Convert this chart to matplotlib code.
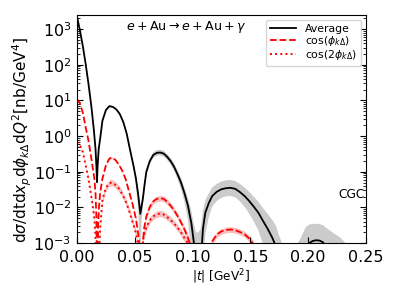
import matplotlib
matplotlib.use("Agg")
import matplotlib.pyplot as plt
import numpy as np

# |t| grid and curves
avg_t = [0.000, 0.0025, 0.005, 0.0075, 0.010, 0.0125, 0.0145, 0.016, 0.0168, 0.0173,
         0.0178, 0.0188, 0.020, 0.022, 0.025, 0.028, 0.031, 0.034, 0.037, 0.040,
         0.043, 0.046, 0.049, 0.051, 0.053, 0.0548, 0.0558, 0.057, 0.0585, 0.060,
         0.063, 0.066, 0.069, 0.072, 0.075, 0.078, 0.081, 0.084, 0.087, 0.090,
         0.093, 0.096, 0.099, 0.101, 0.103, 0.105, 0.107, 0.109, 0.111, 0.114,
         0.117, 0.121, 0.125, 0.129, 0.133, 0.137, 0.141, 0.145, 0.149, 0.153,
         0.157, 0.161, 0.165, 0.169, 0.172, 0.175, 0.180, 0.187, 0.193, 0.198,
         0.201, 0.204, 0.207, 0.210, 0.213, 0.216, 0.222, 0.228, 0.234, 0.240]
avg_log = [3.35, 2.97, 2.53, 2.02, 1.45, 0.81, 0.20, -0.35, -0.85, -1.29,
           -0.85, -0.35, -0.08, 0.43, 0.73, 0.84, 0.82, 0.75, 0.62, 0.40,
           0.07, -0.40, -0.85, -1.19, -1.65, -2.18, -1.98, -1.75, -1.35, -1.00,
           -0.70, -0.53, -0.47, -0.46, -0.49, -0.58, -0.70, -0.86, -1.07, -1.30,
           -1.60, -1.95, -2.45, -2.95, -3.60, -4.50, -3.60, -2.60, -2.15, -1.88,
           -1.68, -1.56, -1.49, -1.46, -1.45, -1.48, -1.57, -1.68, -1.82, -1.98,
           -2.15, -2.38, -2.60, -2.85, -3.08, -3.40, -4.00, -4.50, -3.80, -3.15,
           -3.00, -2.94, -2.92, -2.93, -2.98, -3.20, -3.50, -3.80, -4.20, -4.50]
# band widths (decades) for the gray uncertainty
avg_up = [0.01, 0.01, 0.01, 0.01, 0.01, 0.01, 0.01, 0.02, 0.04, 0.08,
          0.04, 0.02, 0.02, 0.02, 0.02, 0.02, 0.02, 0.02, 0.02, 0.03,
          0.03, 0.05, 0.07, 0.10, 0.14, 0.20, 0.15, 0.12, 0.10, 0.08,
          0.08, 0.08, 0.08, 0.08, 0.08, 0.08, 0.09, 0.10, 0.11, 0.13,
          0.16, 0.22, 0.35, 0.50, 0.90, 1.80, 1.00, 0.50, 0.35, 0.27,
          0.24, 0.22, 0.22, 0.22, 0.22, 0.22, 0.23, 0.24, 0.26, 0.28,
          0.31, 0.36, 0.42, 0.50, 0.58, 0.60, 0.80, 1.30, 0.90, 0.60,
          0.52, 0.48, 0.46, 0.46, 0.48, 0.62, 0.78, 0.95, 1.15, 1.30]
avg_dn = [0.01, 0.01, 0.01, 0.01, 0.01, 0.01, 0.02, 0.04, 0.12, 0.25,
          0.12, 0.04, 0.03, 0.02, 0.02, 0.02, 0.02, 0.02, 0.02, 0.03,
          0.04, 0.06, 0.10, 0.20, 0.40, 1.50, 0.45, 0.25, 0.15, 0.10,
          0.08, 0.08, 0.08, 0.08, 0.08, 0.09, 0.10, 0.11, 0.14, 0.18,
          0.25, 0.40, 0.80, 1.50, 2.00, 2.00, 2.00, 1.20, 0.60, 0.40,
          0.30, 0.26, 0.24, 0.23, 0.23, 0.24, 0.26, 0.30, 0.35, 0.42,
          0.50, 0.65, 0.85, 1.10, 1.50, 2.00, 2.00, 2.00, 2.00, 2.00,
          2.00, 2.00, 2.00, 2.00, 2.00, 2.00, 2.00, 2.00, 2.00, 2.00]

c1_t = [0.000, 0.0025, 0.005, 0.0075, 0.010, 0.0125, 0.015, 0.016, 0.0168, 0.0175,
        0.0183, 0.019, 0.020, 0.022, 0.025, 0.028, 0.030, 0.033, 0.036, 0.039,
        0.042, 0.045, 0.048, 0.051, 0.053, 0.0545, 0.0555, 0.0565, 0.058, 0.060,
        0.063, 0.066, 0.069, 0.072, 0.075, 0.078, 0.081, 0.084, 0.087, 0.090,
        0.093, 0.096, 0.098, 0.100, 0.103, 0.110, 0.114, 0.117, 0.121, 0.125,
        0.129, 0.133, 0.137, 0.141, 0.145, 0.149, 0.152, 0.155, 0.160]
c1_log = [1.04, 0.92, 0.66, 0.25, -0.14, -0.65, -1.19, -1.60, -2.30, -4.50,
          -2.50, -2.00, -1.60, -1.19, -0.82, -0.63, -0.60, -0.66, -0.79, -0.96,
          -1.20, -1.55, -1.90, -2.32, -2.75, -3.30, -4.50, -3.20, -2.60, -2.25,
          -1.98, -1.83, -1.76, -1.74, -1.76, -1.84, -1.95, -2.08, -2.24, -2.42,
          -2.62, -2.85, -3.05, -3.40, -4.50, -4.50, -3.30, -2.95, -2.76, -2.67,
          -2.63, -2.62, -2.64, -2.69, -2.75, -2.87, -3.00, -3.30, -4.50]
c1_err = [0.01, 0.01, 0.01, 0.01, 0.01, 0.01, 0.02, 0.03, 0.05, 0.10,
          0.05, 0.03, 0.02, 0.02, 0.02, 0.02, 0.02, 0.02, 0.02, 0.02,
          0.02, 0.03, 0.04, 0.05, 0.06, 0.08, 0.10, 0.09, 0.08, 0.08,
          0.08, 0.08, 0.08, 0.08, 0.08, 0.08, 0.08, 0.08, 0.08, 0.08,
          0.09, 0.10, 0.10, 0.10, 0.10, 0.10, 0.10, 0.09, 0.08, 0.08,
          0.08, 0.08, 0.08, 0.08, 0.08, 0.09, 0.10, 0.10, 0.10]

c2_t = [0.000, 0.0025, 0.005, 0.0075, 0.010, 0.0125, 0.014, 0.015, 0.016, 0.017,
        0.0185, 0.0195, 0.020, 0.022, 0.025, 0.028, 0.030, 0.033, 0.036, 0.039,
        0.042, 0.045, 0.048, 0.051, 0.053, 0.0545, 0.056, 0.0575, 0.060, 0.063,
        0.066, 0.069, 0.072, 0.075, 0.078, 0.081, 0.084, 0.087, 0.090, 0.093,
        0.096, 0.098, 0.100, 0.105]
c2_log = [-0.16, -0.25, -0.45, -0.82, -1.22, -1.72, -2.05, -2.32, -2.80, -4.50,
          -3.60, -3.00, -2.60, -1.78, -1.45, -1.32, -1.30, -1.36, -1.46, -1.62,
          -1.82, -2.08, -2.40, -2.72, -3.10, -4.50, -3.30, -2.82, -2.55, -2.36,
          -2.25, -2.19, -2.17, -2.20, -2.27, -2.35, -2.45, -2.57, -2.70, -2.86,
          -3.00, -3.30, -4.50, -4.50]
c2_err = [0.02, 0.02, 0.03, 0.04, 0.05, 0.06, 0.07, 0.08, 0.09, 0.10,
          0.10, 0.10, 0.10, 0.09, 0.09, 0.09, 0.09, 0.09, 0.09, 0.09,
          0.09, 0.09, 0.09, 0.10, 0.10, 0.10, 0.10, 0.10, 0.09, 0.09,
          0.09, 0.09, 0.09, 0.09, 0.09, 0.09, 0.09, 0.09, 0.10, 0.10,
          0.10, 0.10, 0.10, 0.10]

legend_labels = ["Average", r"cos($\phi_{k\Delta}$)", r"cos(2$\phi_{k\Delta}$)"]
xticks = [0.0, 0.05, 0.10, 0.15, 0.20, 0.25]


def band(t, logv, up, dn):
    v = 10.0 ** np.array(logv)
    hi = 10.0 ** (np.array(logv) + np.array(up))
    lo = 10.0 ** (np.array(logv) - np.array(dn))
    return np.array(t), v, lo, hi


fig = plt.figure(figsize=(3.99, 2.99), dpi=100)
ax = fig.add_axes([0.193, 0.187, 0.724, 0.763])

t, v, lo, hi = band(avg_t, avg_log, avg_up, avg_dn)
ax.fill_between(t, lo, hi, color='0.75', alpha=0.8, lw=0)
ax.plot(t, v, color='black', lw=1.3, label=legend_labels[0])

t, v, lo, hi = band(c1_t, c1_log, c1_err, c1_err)
ax.fill_between(t, lo, hi, color='lightcoral', alpha=0.5, lw=0)
ax.plot(t, v, color='red', ls='--', lw=1.3, label=legend_labels[1])

t, v, lo, hi = band(c2_t, c2_log, c2_err, c2_err)
ax.fill_between(t, lo, hi, color='lightcoral', alpha=0.5, lw=0)
ax.plot(t, v, color='red', ls=':', lw=1.4, label=legend_labels[2])

ax.set_yscale('log')
ax.set_xlim(0, 0.25)
ax.set_ylim(1e-3, 2.5e3)
ax.set_xticks(xticks)
ax.set_xticklabels([f"{x:.2f}" for x in xticks])
ax.tick_params(which='both', direction='in', right=True, labelsize=11.5)
ax.tick_params(which='major', length=4)
ax.tick_params(which='minor', length=2)
ax.tick_params(axis='x', pad=5)
ax.tick_params(axis='y', pad=4)

ax.set_xlabel(r"$|t|$ [GeV$^2$]", fontsize=8.7, labelpad=2)
ax.set_ylabel(r"d$\sigma$/dtd$x_p$d$\phi_{k\Delta}$d$Q^2$[nb/GeV$^4$]", fontsize=11)
ax.yaxis.set_label_coords(-0.15, 0.45)

ax.text(0.38, 0.945, r"$e + \mathrm{Au} \rightarrow e + \mathrm{Au} + \gamma$",
        transform=ax.transAxes, ha='center', va='center', fontsize=9.1)
ax.text(0.997, 0.215, "CGC", transform=ax.transAxes, ha='right', va='center', fontsize=8.8)

ax.legend(loc='upper right', fontsize=7.8, handlelength=2.4, labelspacing=0.0,
          borderpad=0.4, handletextpad=0.8, borderaxespad=0.45)

fig.savefig("out.png", dpi=100)
